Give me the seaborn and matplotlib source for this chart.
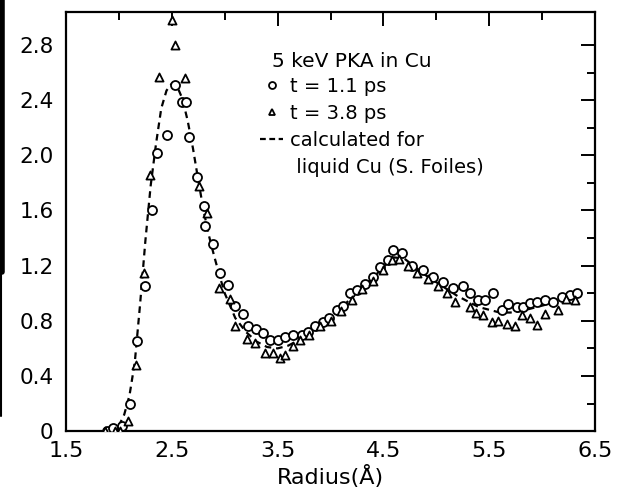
import seaborn as sns
import numpy as np
import pandas as pd
import matplotlib.pyplot as plt
from matplotlib.lines import Line2D

# calculated g(r) for liquid Cu (dashed)
calc_r = [1.90, 2.00, 2.05, 2.10, 2.15, 2.20, 2.25, 2.30, 2.35, 2.40, 2.45, 2.50, 2.55,
          2.60, 2.65, 2.70, 2.75, 2.80, 2.85, 2.90, 2.95, 3.00, 3.10, 3.20, 3.30, 3.40,
          3.50, 3.60, 3.70, 3.80, 3.90, 4.00, 4.10, 4.20, 4.30, 4.40, 4.50, 4.60, 4.70,
          4.80, 4.90, 5.00, 5.10, 5.20, 5.30, 5.40, 5.50, 5.60, 5.70, 5.80, 5.90, 6.00,
          6.10, 6.20, 6.30]
calc_g = [0.00, 0.04, 0.12, 0.26, 0.50, 0.92, 1.38, 1.78, 2.08, 2.34, 2.47, 2.52, 2.50,
          2.41, 2.25, 2.05, 1.82, 1.60, 1.42, 1.27, 1.13, 1.00, 0.82, 0.72, 0.65, 0.61,
          0.60, 0.62, 0.66, 0.72, 0.78, 0.83, 0.89, 0.97, 1.04, 1.11, 1.19, 1.26, 1.25,
          1.19, 1.13, 1.08, 1.03, 0.98, 0.94, 0.90, 0.88, 0.86, 0.86, 0.87, 0.89, 0.91,
          0.93, 0.95, 0.96]

# t = 1.1 ps (circles)
r_11 = [1.89, 1.94, 2.03, 2.10, 2.17, 2.25, 2.31, 2.36, 2.45, 2.53, 2.60, 2.63, 2.66,
        2.74, 2.80, 2.81, 2.89, 2.96, 3.03, 3.10, 3.17, 3.22, 3.30, 3.36, 3.43, 3.50,
        3.57, 3.65, 3.73, 3.79, 3.85, 3.93, 3.99, 4.06, 4.12, 4.18, 4.25, 4.33, 4.40,
        4.47, 4.54, 4.59, 4.68, 4.77, 4.87, 4.97, 5.06, 5.16, 5.25, 5.32, 5.39, 5.46,
        5.54, 5.62, 5.68, 5.76, 5.82, 5.89, 5.95, 6.03, 6.10, 6.19, 6.26, 6.33]
g_11 = [0.00, 0.02, 0.04, 0.20, 0.65, 1.05, 1.60, 2.02, 2.15, 2.51, 2.39, 2.39, 2.13,
        1.84, 1.63, 1.49, 1.36, 1.15, 1.06, 0.91, 0.85, 0.76, 0.74, 0.71, 0.66, 0.66,
        0.68, 0.70, 0.70, 0.72, 0.76, 0.79, 0.82, 0.88, 0.91, 1.00, 1.02, 1.07, 1.12,
        1.19, 1.24, 1.31, 1.29, 1.20, 1.17, 1.12, 1.08, 1.04, 1.05, 1.00, 0.95, 0.95,
        1.00, 0.88, 0.92, 0.90, 0.90, 0.93, 0.94, 0.95, 0.94, 0.97, 0.99, 1.00]

# t = 3.8 ps (triangles)
r_38 = [1.87, 1.96, 2.01, 2.09, 2.16, 2.24, 2.29, 2.38, 2.50, 2.53, 2.62, 2.76, 2.83,
        2.95, 3.05, 3.10, 3.21, 3.29, 3.38, 3.46, 3.52, 3.57, 3.65, 3.71, 3.80, 3.90,
        4.00, 4.10, 4.20, 4.30, 4.40, 4.50, 4.58, 4.65, 4.73, 4.82, 4.92, 5.02, 5.10,
        5.18, 5.32, 5.38, 5.44, 5.53, 5.58, 5.67, 5.74, 5.81, 5.89, 5.95, 6.03, 6.15,
        6.23, 6.31]
g_38 = [0.00, 0.00, 0.00, 0.07, 0.48, 1.15, 1.86, 2.57, 2.98, 2.80, 2.56, 1.78, 1.58,
        1.04, 0.96, 0.76, 0.67, 0.64, 0.57, 0.57, 0.53, 0.55, 0.62, 0.66, 0.70, 0.76,
        0.80, 0.87, 0.95, 1.03, 1.09, 1.17, 1.24, 1.25, 1.20, 1.15, 1.10, 1.05, 1.00,
        0.94, 0.90, 0.86, 0.84, 0.79, 0.80, 0.78, 0.76, 0.84, 0.82, 0.77, 0.85, 0.88,
        0.96, 0.95]

calc = pd.DataFrame({'r': calc_r, 'g': calc_g})
d11 = pd.DataFrame({'r': r_11, 'g': g_11})
d38 = pd.DataFrame({'r': r_38, 'g': g_38})

sns.set_style('white')
plt.rcParams['font.family'] = ['DejaVu Sans']
plt.rcParams['text.color'] = 'black'
plt.rcParams['axes.labelcolor'] = 'black'
plt.rcParams['xtick.color'] = 'black'
plt.rcParams['ytick.color'] = 'black'
plt.rcParams['xtick.direction'] = 'in'
plt.rcParams['ytick.direction'] = 'in'

fig = plt.figure(figsize=(6.23, 4.95), dpi=100)
ax = fig.add_axes([0.106, 0.129, 0.849, 0.847])

dash = (0, (3, 2.2))
sns.lineplot(data=calc, x='r', y='g', ax=ax, color='black', lw=1.6,
             linestyle=dash, legend=False, zorder=2)
sns.scatterplot(data=d11, x='r', y='g', ax=ax, marker='o', s=42, facecolor='white',
                edgecolor='black', linewidth=1.3, legend=False, zorder=3)
sns.scatterplot(data=d38, x='r', y='g', ax=ax, marker='^', s=34, facecolor='white',
                edgecolor='black', linewidth=1.3, legend=False, zorder=3)

ax.set_xlim(1.5, 6.5)
ax.set_ylim(0, 3.04)
ax.set_xticks(np.arange(1.5, 6.6, 1.0))
ax.set_xticks(np.arange(2.0, 6.5, 1.0), minor=True)
ax.set_yticks(np.arange(0, 2.9, 0.4))
ax.set_yticks(np.arange(0.2, 3.0, 0.4), minor=True)
ax.set_yticklabels(['0'] + ['%.1f' % v for v in np.arange(0.4, 2.9, 0.4)])
ax.tick_params(which='both', top=True, right=True, width=1.4, color='black')
ax.tick_params(which='major', length=10)
ax.tick_params(which='minor', length=6)
ax.tick_params(axis='x', labelsize=16, pad=7)
ax.tick_params(axis='y', labelsize=15.5, pad=9)
for sp in ax.spines.values():
    sp.set_linewidth(1.6)
    sp.set_color('black')
ax.set_xlabel('Radius(Å)', fontsize=16, labelpad=3)
ax.set_ylabel('')

ax.text(0.389, 0.881, '5 keV PKA in Cu', transform=ax.transAxes, fontsize=14.5,
        va='center', ha='left')
handles = [
    Line2D([], [], ls='none', marker='o', ms=5, mfc='white', mec='black', mew=1.3),
    Line2D([], [], ls='none', marker='^', ms=5, mfc='white', mec='black', mew=1.3),
    Line2D([], [], color='black', lw=1.6, ls=(0, (2.6, 1.6))),
    Line2D([], [], ls='none'),
]
labels = ['t = 1.1 ps', 't = 3.8 ps', 'calculated for', ' liquid Cu (S. Foiles)']
leg = ax.legend(handles, labels, loc='upper left', bbox_to_anchor=(0.367, 0.845),
                frameon=False, fontsize=14, handlelength=1.2, handletextpad=0.35,
                labelspacing=0.42, borderpad=0, borderaxespad=0)

# scan edge on the left border
fig.add_artist(Line2D([0.004, 0.004], [0.45, 1.0], color='black', lw=4))
fig.add_artist(Line2D([0.002, 0.002], [0.16, 0.45], color='black', lw=1.5))

fig.savefig('out.png', dpi=100)
